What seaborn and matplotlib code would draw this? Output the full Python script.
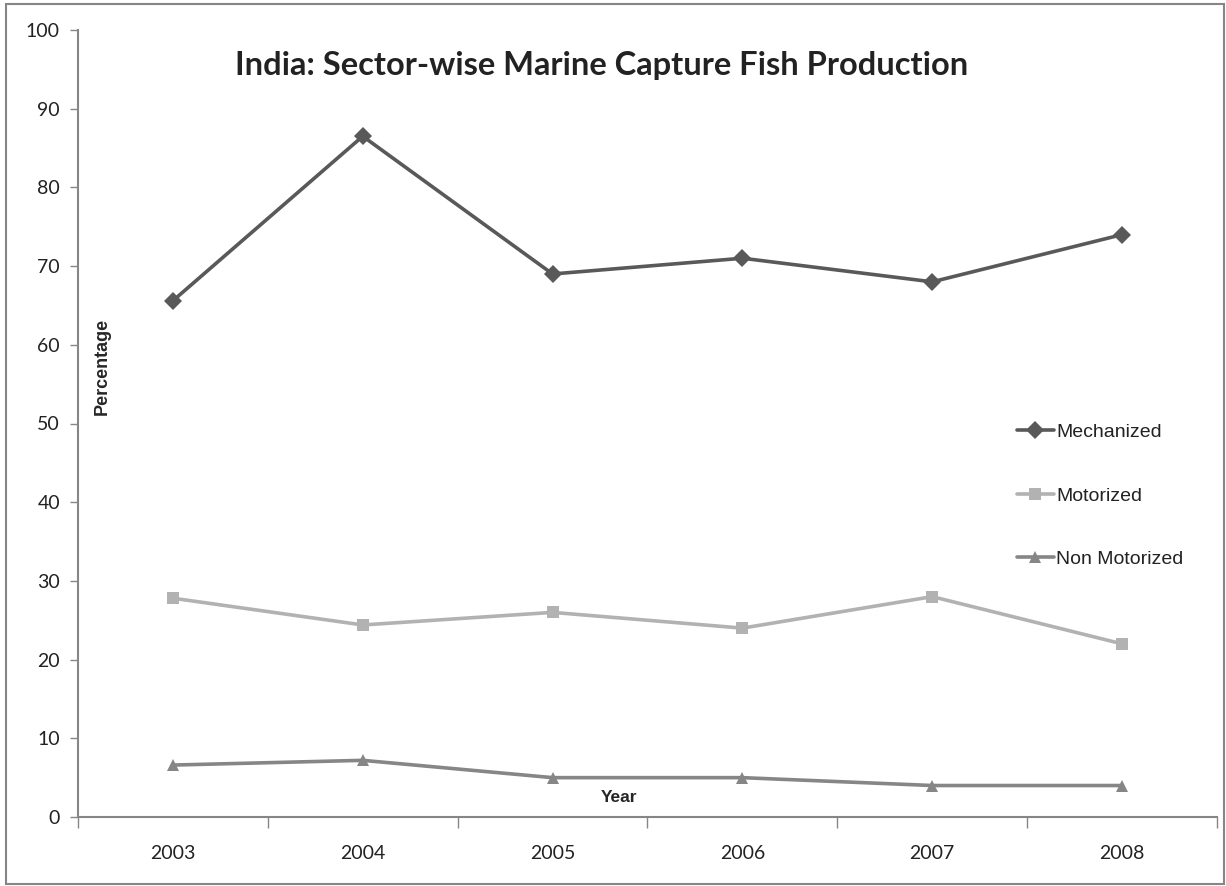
import numpy as np
import pandas as pd
import matplotlib
matplotlib.use("Agg")
import matplotlib.pyplot as plt
from matplotlib.ticker import FixedLocator, NullFormatter, FixedFormatter
import seaborn as sns

years = ["2003", "2004", "2005", "2006", "2007", "2008"]
mechanized = [65.6, 86.5, 69.0, 71.0, 68.0, 74.0]
motorized = [27.8, 24.4, 26.0, 24.0, 28.0, 22.0]
non_motorized = [6.6, 7.2, 5.0, 5.0, 4.0, 4.0]
series_names = ["Mechanized", "Motorized", "Non Motorized"]

df = pd.DataFrame({
    "pos": list(range(len(years))) * 3,
    "value": mechanized + motorized + non_motorized,
    "Sector": np.repeat(series_names, len(years)),
})

sns.set_style("white")
plt.rcParams['font.family'] = ['Lato', 'DejaVu Sans']

fig = plt.figure(figsize=(12.26, 8.86), dpi=100)
ax = fig.add_axes([78/1226, 69/886, (1217-78)/1226, (817-30)/886])

palette = {"Mechanized": "#595959", "Motorized": "#b2b2b2", "Non Motorized": "#868686"}
markers = {"Mechanized": "D", "Motorized": "s", "Non Motorized": "^"}
sns.lineplot(data=df, x="pos", y="value", hue="Sector", style="Sector",
             palette=palette, markers=markers, dashes=False, linewidth=2.6,
             markersize=9, markeredgewidth=0, ax=ax)

ax.set_xlim(-0.5, 5.5)
ax.set_ylim(0, 100)
ax.set_yticks(np.arange(0, 101, 10))
ax.tick_params(axis="y", length=6, width=1, color="#868686", labelsize=14,
               direction="out", left=True, pad=7, labelcolor="#222222")
ax.xaxis.set_major_locator(FixedLocator(np.arange(-0.5, 6, 1)))
ax.xaxis.set_major_formatter(NullFormatter())
ax.xaxis.set_minor_locator(FixedLocator(np.arange(0, 6, 1)))
ax.xaxis.set_minor_formatter(FixedFormatter(years))
ax.tick_params(axis="x", which="major", length=8, width=1, color="#868686",
               direction="out", bottom=True)
ax.tick_params(axis="x", which="minor", length=0, labelsize=14, pad=20,
               labelcolor="#222222")
for s in ["top", "right"]:
    ax.spines[s].set_visible(False)
for s in ["left", "bottom"]:
    ax.spines[s].set_color("#868686")
    ax.spines[s].set_linewidth(1.5)

ax.set_xlabel("")
ax.set_ylabel("")
ax.text(0.021, 0.572, "Percentage", transform=ax.transAxes, rotation=90,
        ha="center", va="center", fontsize=13, fontweight="bold",
        family="Liberation Sans")
ax.text(0.475, 0.025, "Year", transform=ax.transAxes, ha="center", va="center",
        fontsize=12.5, fontweight="bold", family="Liberation Sans")
fig.text(602/1226, 1 - 65/886, "India: Sector-wise Marine Capture Fish Production",
         ha="center", va="center", fontsize=23.5, fontweight="bold", color="#222222")

leg = ax.legend(loc="upper left", bbox_to_anchor=(1003/1226, 1 - 410/886),
                bbox_transform=fig.transFigure, frameon=False, handlelength=1.9,
                handletextpad=0.15, labelspacing=2.35, borderpad=0.2,
                prop={"family": "Liberation Sans", "size": 14})
for t in leg.get_texts():
    t.set_color("#222222")

fig.patches.append(plt.Rectangle((6/1226, 2/886), 1218/1226, 880/886,
                                 transform=fig.transFigure, fill=False,
                                 edgecolor="#868686", linewidth=1.5))

fig.savefig("out.png", dpi=100)
